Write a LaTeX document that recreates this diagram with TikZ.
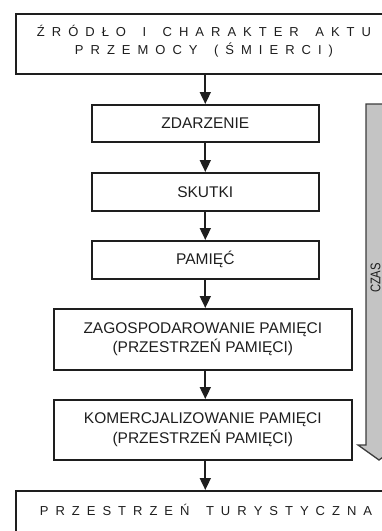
\documentclass[tikz,border=0pt]{standalone}
\usepackage{fontspec}
\setmainfont{Liberation Sans}
\usetikzlibrary{arrows.meta}
\ExplSyntaxOn
\NewDocumentCommand\lsword{m}{\tl_map_inline:nn {#1} {##1\kern7pt}\kern-7pt}
\ExplSyntaxOff
\newcommand\wgap{\kern16.5pt}
\definecolor{ink}{HTML}{1E1E1E}
\definecolor{timefill}{HTML}{C4C4C4}
\definecolor{timeedge}{HTML}{3C3C3C}
\tikzset{
  box/.style={draw=ink, line width=1.6pt, fill=white, inner sep=0pt, anchor=north west,
    align=center, text=ink, font=\fontsize{15.5}{19.5}\selectfont},
  spacedtext/.style={text=ink, inner sep=0pt, align=center, font=\fontsize{13}{18}\selectfont},
  flow/.style={draw=ink, line width=1.8pt, -{Triangle[length=12pt,width=11pt]}},
}
\begin{document}
\begin{tikzpicture}[x=1pt,y=-1pt]
\useasboundingbox (0,0) rectangle (382,531);
\clip (0,0) rectangle (382,531);
% time arrow
\draw[fill=timefill, draw=timeedge, line width=1.3pt, line join=miter]
  (366,104) -- (366,445) -- (358,445) -- (379,460) -- (400,445) -- (392,445) -- (392,104) -- cycle;
\node[text=ink, rotate=90, inner sep=0pt, font=\fontsize{14}{16}\selectfont] (czas) at (375.5,278) {\scalebox{0.8}[1]{CZAS}};
% boxes
\node[box, minimum width=378pt, minimum height=60pt] (src) at (15,13) {};
\node[spacedtext] (srct) at (204,41) {\lsword{ŹRÓDŁO}\wgap\lsword{I}\wgap\lsword{CHARAKTER}\wgap\lsword{AKTU}\\\lsword{PRZEMOCY}\wgap\lsword{(ŚMIERCI)}};
\node[box, minimum width=227pt, minimum height=37pt] (zd) at (91,104) {ZDARZENIE};
\node[box, minimum width=227pt, minimum height=38pt] (sk) at (91,172) {SKUTKI};
\node[box, minimum width=227pt, minimum height=38pt] (pm) at (91,240) {PAMIĘĆ};
\node[box, minimum width=298pt, minimum height=61pt] (zg) at (53,308) {ZAGOSPODAROWANIE PAMIĘCI\\(PRZESTRZEŃ PAMIĘCI)};
\node[box, minimum width=298pt, minimum height=60pt] (km) at (53,399) {KOMERCJALIZOWANIE PAMIĘCI\\(PRZESTRZEŃ PAMIĘCI)};
\node[box, minimum width=378pt, minimum height=60pt] (tur) at (15,490) {};
\node[spacedtext] (turt) at (206,510) {\lsword{PRZESTRZEŃ}\wgap\lsword{TURYSTYCZNA}};
% connectors
\draw[flow] (zd.north |- src.south) -- (zd.north);
\draw[flow] (zd.south) -- (sk.north);
\draw[flow] (sk.south) -- (pm.north);
\draw[flow] (pm.south) -- (pm.south |- zg.north);
\draw[flow] (pm.south |- zg.south) -- (pm.south |- km.north);
\draw[flow] (pm.south |- km.south) -- (pm.south |- tur.north);
\end{tikzpicture}
\end{document}
